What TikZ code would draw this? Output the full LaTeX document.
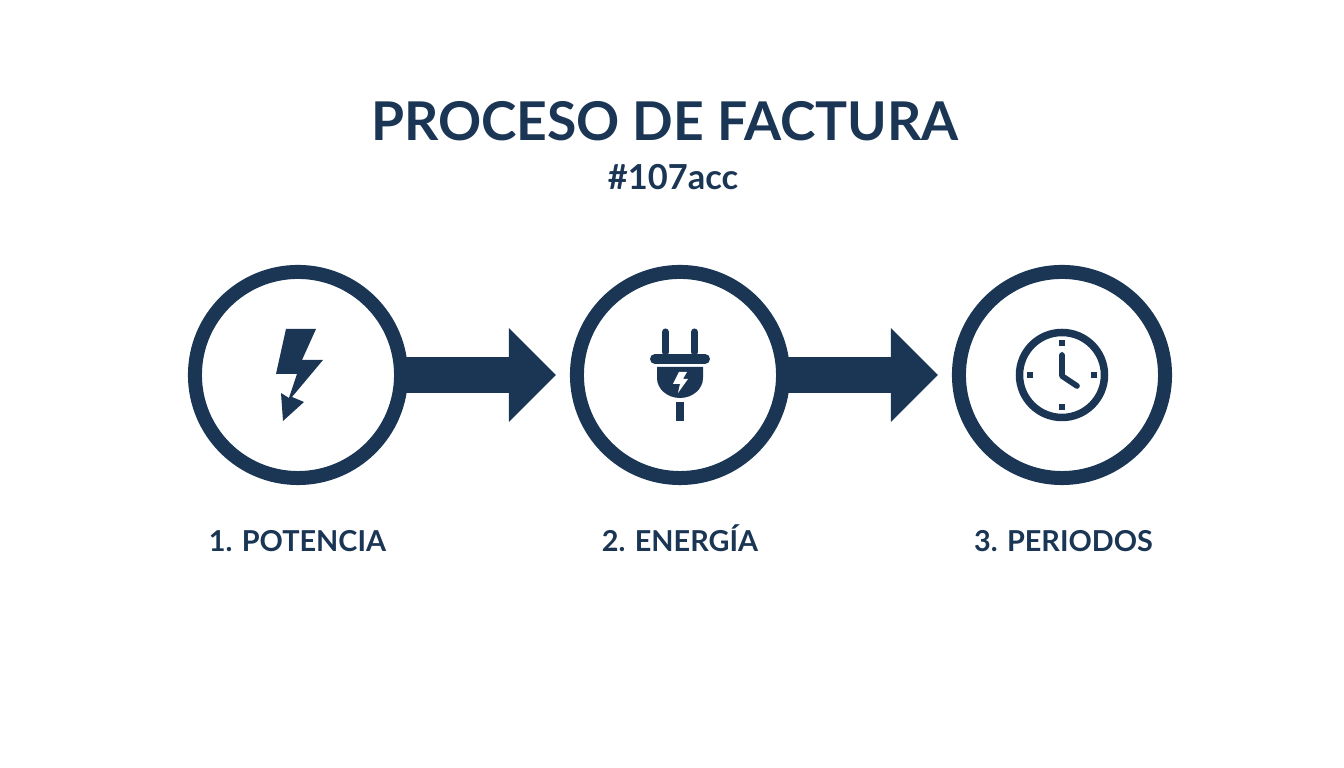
\documentclass[tikz,border=0pt]{standalone}
\usepackage{fontspec}
\setmainfont{Lato}
\usetikzlibrary{arrows.meta}
\definecolor{navy}{HTML}{1A3654}
\tikzset{
    stepring/.style = {circle, draw = navy, line width = 0.14cm, fill = white, minimum size = 2.06cm, inner sep = 0pt},
    steplabel/.style = {text = navy, anchor = base, font = \fontsize{8.2pt}{10pt}\bfseries},
    flow/.style = {draw = navy, line width = 0.36cm, -{Triangle[length = 0.47cm, width = 0.91cm]}, shorten > = 0.14cm, shorten < = -0.03cm}
}
\begin{document}
\begin{tikzpicture}[x = 0.01cm, y = -0.01cm]
    \useasboundingbox (0,0) rectangle (1344,768);
    \node [text = navy, font = \fontsize{15.2pt}{18pt}\bfseries] (title) at (665,121) {PROCESO DE FACTURA};
    \node [text = navy, font = \fontsize{9.8pt}{12pt}\bfseries] (subtitle) at (673,177) {\#107acc};
    \node [stepring] (potencia) at (298,375) {};
    \node [stepring] (energia) at (680,375) {};
    \node [stepring] (periodos) at (1062,375) {};
    \draw [flow] (potencia) -- (energia);
    \draw [flow] (energia) -- (periodos);
    \node [steplabel] (lblpotencia) at (297.5,552) {1. POTENCIA};
    \node [steplabel] (lblenergia) at (680,552) {2. ENERGÍA};
    \node [steplabel] (lblperiodos) at (1063.5,552) {3. PERIODOS};
    % rayo
    \fill [navy] (286,329) -- (316,329) -- (302,360) -- (323,360) -- (292,397) -- (304,402) -- (283,421) -- (281,393) -- (289,398) -- (297,374) -- (276,374) -- cycle;
    % enchufe
    \draw [navy, line width = 0.07cm, line cap = round] (665.5,332) -- (665.5,352) (694.5,332) -- (694.5,352);
    \draw [navy, line width = 0.1cm, line cap = round] (655,359) -- (705,359);
    \fill [navy] (657,367) -- (703,367) -- (703,378) arc (0:180:23 and 20) -- cycle;
    \fill [navy] (676,402) rectangle (684,421);
    \fill [white] (679,372) -- (687,372) -- (683,379) -- (688,379) -- (678,393) -- (680,384) -- (673,384) -- cycle;
    % reloj
    \draw [navy, line width = 0.075cm] (1062,375) circle (42.5);
    \draw [navy, line width = 0.057cm, line cap = round, line join = round] (1062,355) -- (1062,376) -- (1077,386);
    \foreach \a in {0,90,180,270}
        \draw [navy, line width = 0.055cm] (1062,375) ++(\a:29) -- ++(\a:6);
\end{tikzpicture}
\end{document}
